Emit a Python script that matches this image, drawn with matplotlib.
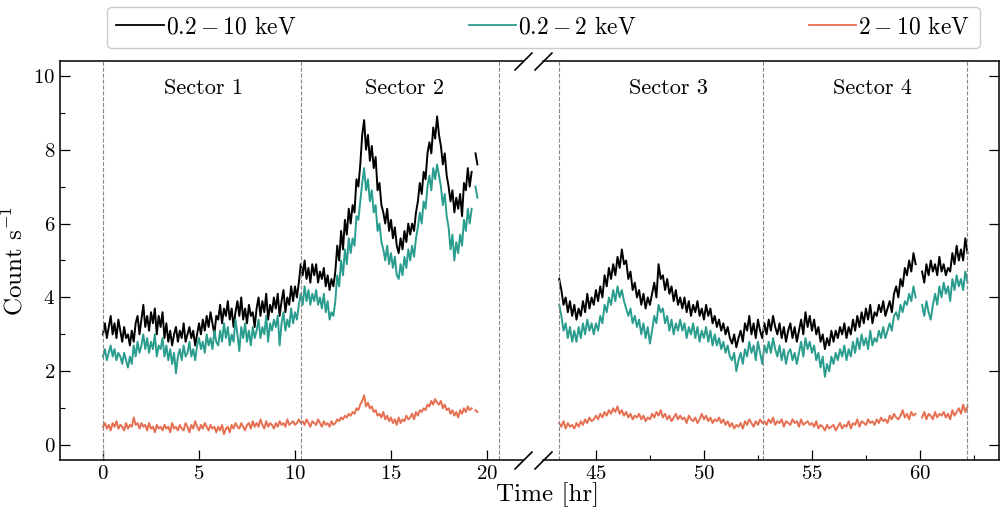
import matplotlib
matplotlib.use("Agg")
import matplotlib.pyplot as plt
import numpy as np
from matplotlib.ticker import MultipleLocator, NullLocator
from matplotlib.lines import Line2D

plt.rcParams['font.family'] = 'cmr10'
plt.rcParams['mathtext.fontset'] = 'cm'
plt.rcParams['axes.unicode_minus'] = False
plt.rcParams['axes.formatter.use_mathtext'] = True

nan = np.nan

# light curves, 0.1 hr bins
t_left = np.round(np.arange(0.0, 19.55, 0.1), 2)
t_right = np.round(np.arange(43.3, 62.25, 0.1), 2)

full_left = [
    3.0, 3.3, 2.9, 3.2, 3.5, 3.0, 3.3, 2.9, 3.4, 3.1,
    2.8, 3.2, 2.9, 3.0, 2.7, 3.1, 2.8, 3.3, 3.5, 3.0,
    3.4, 3.8, 3.2, 3.5, 3.1, 3.6, 3.3, 3.7, 3.0, 3.5,
    3.2, 3.6, 2.9, 3.3, 2.8, 3.1, 2.7, 3.0, 3.2, 2.8,
    3.1, 2.9, 3.3, 2.8, 3.0, 3.2, 2.9, 3.1, 2.7, 3.0,
    3.3, 3.0, 3.4, 3.1, 3.5, 3.2, 3.6, 3.3, 3.0, 3.5,
    3.4, 3.8, 3.3, 3.7, 3.5, 3.9, 3.4, 3.7, 3.2, 3.6,
    3.9, 3.5, 4.0, 3.4, 3.7, 3.3, 3.8, 3.5, 3.6, 3.2,
    3.7, 4.0, 3.5, 3.9, 3.6, 4.1, 3.4, 3.8, 3.6, 4.0,
    3.7, 4.1, 3.5, 3.9, 4.2, 3.6, 4.0, 3.8, 4.3, 3.9,
    4.3, 4.0, 4.4, 4.9, 4.6, 5.0, 4.5, 4.8, 4.4, 4.9,
    4.6, 4.9, 4.4, 4.7, 4.5, 4.8, 4.3, 4.6, 4.2, 4.5,
    4.3, 4.7, 5.4, 5.0, 5.8, 5.3, 6.1, 5.7, 6.4, 6.0,
    6.5, 6.3, 7.2, 7.0, 7.6, 8.4, 8.8, 8.0, 8.4, 7.7,
    8.1, 7.5, 7.8, 6.9, 7.1, 6.5, 6.3, 6.0, 6.4, 5.8,
    6.1, 5.6, 5.9, 5.4, 5.2, 5.6, 5.3, 5.8, 5.5, 6.0,
    5.7, 6.0, 5.8, 6.3, 6.6, 7.1, 6.8, 7.4, 7.2, 7.9,
    8.2, 7.9, 8.6, 8.3, 8.9, 8.4, 8.1, 7.6, 7.9, 7.3,
    7.0, 6.6, 6.9, 6.3, 6.7, 6.4, 6.8, 6.2, 7.1, 6.9,
    7.5, 7.0, 7.4, nan, 7.9, 7.6,
]
soft_left = [
    2.4, 2.6, 2.3, 2.5, 2.7, 2.4, 2.6, 2.3, 2.5, 2.4,
    2.2, 2.5, 2.3, 2.1, 2.4, 2.2, 2.7, 2.4, 2.8, 2.5,
    2.7, 3.0, 2.6, 2.9, 2.5, 2.8, 2.6, 3.0, 2.4, 2.7,
    2.6, 2.9, 2.4, 2.7, 2.3, 2.6, 2.2, 2.5, 1.95, 2.4,
    2.6, 2.3, 2.7, 2.4, 2.5, 2.8, 2.4, 2.6, 2.3, 2.7,
    2.9, 2.6, 2.8, 2.5, 3.0, 2.7, 2.9, 2.6, 3.1, 2.8,
    2.7, 3.1, 2.8, 3.3, 2.9, 3.2, 2.7, 3.0, 2.8, 3.4,
    3.0, 2.55, 3.2, 2.9, 3.3, 2.8, 3.1, 2.7, 3.2, 2.9,
    3.1, 3.4, 2.9, 3.2, 3.0, 3.5, 2.8, 3.3, 3.1, 3.4,
    3.2, 3.5, 2.7, 3.3, 3.6, 3.1, 3.4, 3.2, 3.7, 3.3,
    3.6, 3.4, 3.8, 4.1, 3.8, 4.3, 3.9, 4.2, 3.8, 4.1,
    3.9, 4.2, 3.8, 4.0, 3.7, 4.1, 3.6, 3.9, 3.4, 3.6,
    3.5, 3.9, 4.6, 4.3, 5.0, 4.6, 5.3, 4.9, 5.6, 5.2,
    5.6, 5.4, 6.2, 6.1, 6.6, 7.1, 7.5, 6.9, 7.2, 6.6,
    6.9, 6.3, 6.5, 5.8, 6.0, 5.5, 5.3, 5.0, 5.4, 4.9,
    5.2, 4.8, 5.1, 4.6, 4.5, 4.9, 4.6, 5.1, 4.8, 5.3,
    5.0, 5.4, 5.1, 5.6, 5.9, 6.3, 6.0, 6.6, 6.4, 7.0,
    7.3, 6.9, 7.5, 7.2, 7.6, 7.3, 7.0, 6.5, 6.8, 6.2,
    5.9, 5.3, 5.7, 5.0, 5.5, 5.2, 5.7, 5.4, 6.1, 5.8,
    6.4, 6.0, 6.4, nan, 7.0, 6.7,
]
hard_left = [
    0.5, 0.6, 0.45, 0.55, 0.4, 0.6, 0.5, 0.65, 0.45, 0.55,
    0.5, 0.4, 0.6, 0.45, 0.55, 0.5, 0.75, 0.55, 0.6, 0.45,
    0.6, 0.5, 0.55, 0.4, 0.6, 0.45, 0.5, 0.35, 0.55, 0.45,
    0.5, 0.4, 0.55, 0.45, 0.5, 0.35, 0.6, 0.45, 0.5, 0.4,
    0.55, 0.45, 0.4, 0.6, 0.5, 0.35, 0.55, 0.45, 0.65, 0.5,
    0.4, 0.55, 0.45, 0.6, 0.5, 0.4, 0.55, 0.45, 0.5, 0.35,
    0.5, 0.4, 0.55, 0.3, 0.45, 0.5, 0.35, 0.55, 0.45, 0.6,
    0.5, 0.45, 0.6, 0.5, 0.4, 0.55, 0.6, 0.45, 0.65, 0.5,
    0.6, 0.5, 0.7, 0.55, 0.45, 0.65, 0.5, 0.6, 0.55, 0.45,
    0.6, 0.5, 0.65, 0.55, 0.6, 0.5, 0.7, 0.55, 0.6, 0.65,
    0.55, 0.6, 0.7, 0.6, 0.65, 0.55, 0.7, 0.6, 0.5, 0.65,
    0.6, 0.55, 0.7, 0.6, 0.5, 0.65, 0.55, 0.6, 0.5, 0.65,
    0.55, 0.6, 0.7, 0.65, 0.75, 0.7, 0.8, 0.75, 0.85, 0.8,
    0.9, 0.85, 1.0, 0.95, 1.1, 1.2, 1.35, 1.05, 1.15, 1.0,
    1.05, 0.9, 0.95, 0.8, 0.85, 0.75, 0.9, 0.7, 0.8, 0.65,
    0.75, 0.6, 0.7, 0.55, 0.75, 0.6, 0.7, 0.65, 0.8, 0.7,
    0.75, 0.85, 0.7, 0.9, 0.8, 0.95, 0.9, 1.0, 0.95, 1.1,
    1.05, 1.2, 1.1, 1.25, 1.15, 1.1, 1.2, 1.0, 1.1, 0.95,
    1.0, 0.85, 0.95, 0.8, 0.9, 0.75, 0.95, 0.85, 1.0, 0.9,
    1.05, 0.95, 1.0, nan, 0.95, 0.9,
]

full_right = [
    4.5, 4.2, 3.8, 4.0, 3.6, 3.9, 3.5,
    3.8, 3.4, 3.7, 3.5, 3.9, 3.6, 4.1, 3.7, 4.0, 3.8,
    4.2, 3.9, 4.3, 4.0, 4.6, 4.3, 4.8, 4.5, 4.9, 4.6,
    5.1, 4.8, 5.3, 4.9, 5.0, 4.5, 4.7, 4.2, 4.4, 4.0,
    4.2, 3.8, 4.1, 3.7, 4.0, 3.8, 4.1, 4.4, 4.0, 4.9,
    4.5, 4.6, 4.2, 4.5, 4.1, 4.3, 3.9, 4.2, 3.8, 4.0,
    3.7, 4.0, 3.6, 3.9, 3.5, 3.8, 3.6, 3.9, 3.5, 3.7,
    3.4, 3.8, 3.5, 3.7, 3.3, 3.5, 3.2, 3.4, 3.1, 3.3,
    3.0, 3.2, 2.9, 2.75, 3.0, 2.65, 2.9, 3.1, 2.8, 3.3,
    3.1, 3.5, 3.0, 3.3, 2.9, 3.4, 3.1, 2.9, 3.3, 3.0,
    3.4, 3.1, 3.5, 3.2, 3.0, 3.3, 2.9, 3.2, 2.8, 3.1,
    3.3, 2.9, 3.2, 2.8, 3.1, 3.4, 3.0, 3.6, 3.2, 3.5,
    3.1, 3.4, 3.0, 3.2, 2.8, 3.0, 2.6, 2.9, 2.7, 3.1,
    2.8, 3.1, 2.9, 3.2, 3.0, 3.3, 2.9, 3.2, 3.0, 3.4,
    3.1, 3.5, 3.2, 3.6, 3.3, 3.7, 3.4, 3.8, 3.3, 3.6,
    3.5, 3.8, 3.6, 3.9, 3.5, 3.7, 3.9, 3.6, 4.1, 4.3,
    4.0, 4.5, 4.3, 4.8, 4.6, 5.0, 4.7, 5.2, 4.9, nan,
    nan, 4.7, 4.4, 4.9, 4.6, 5.0, 4.7, 4.9, 4.6, 5.1,
    4.7, 4.9, 4.6, 4.8, 4.7, 5.2, 4.9, 5.4, 5.0, 5.3,
    5.0, 5.6, 5.2,
]
soft_right = [
    3.8, 3.5, 3.1, 3.3, 2.9, 3.2, 2.8,
    3.1, 2.8, 3.2, 2.9, 3.3, 3.0, 3.4, 3.1, 3.3, 3.0,
    3.3, 3.1, 3.5, 3.3, 3.8, 3.6, 4.0, 3.8, 4.2, 3.9,
    4.3, 4.0, 4.2, 3.9, 3.7, 3.5, 3.7, 3.3, 3.5, 3.2,
    3.4, 3.0, 3.3, 2.9, 3.2, 2.75, 3.1, 3.5, 3.3, 3.8,
    3.6, 3.7, 3.3, 3.5, 3.1, 3.4, 3.0, 3.3, 3.1, 3.4,
    3.1, 3.3, 2.9, 3.2, 3.0, 3.3, 2.9, 3.2, 2.8, 3.1,
    2.9, 3.2, 2.8, 3.1, 2.7, 3.0, 2.7, 2.9, 2.6, 2.8,
    2.5, 2.7, 2.4, 2.3, 2.5, 2.0, 2.3, 2.5, 2.2, 2.6,
    2.4, 2.8, 2.5, 2.7, 2.3, 2.8, 2.5, 2.2, 2.7, 2.5,
    2.8, 2.5, 2.9, 2.6, 2.4, 2.7, 2.3, 2.6, 2.2, 2.5,
    2.6, 2.3, 2.5, 2.2, 2.5, 2.8, 2.4, 2.9, 2.6, 2.8,
    2.5, 2.7, 2.3, 2.5, 2.1, 2.4, 1.85, 2.2, 2.0, 2.4,
    2.2, 2.5, 2.3, 2.6, 2.4, 2.7, 2.3, 2.6, 2.4, 2.8,
    2.5, 2.9, 2.6, 3.0, 2.7, 2.9, 2.6, 3.1, 2.7, 2.9,
    2.8, 3.1, 2.9, 3.2, 2.9, 3.1, 3.3, 3.1, 3.5, 3.6,
    3.4, 3.8, 3.6, 3.9, 3.8, 4.1, 3.9, 4.3, 4.0, nan,
    nan, 3.8, 3.5, 3.9, 3.6, 3.4, 3.8, 4.1, 3.8, 4.3,
    4.0, 4.4, 4.1, 4.3, 3.9, 4.5, 4.2, 4.6, 4.3, 4.5,
    4.2, 4.7, 4.4,
]
hard_right = [
    0.6, 0.5, 0.65, 0.45, 0.6, 0.5, 0.55,
    0.45, 0.6, 0.5, 0.65, 0.55, 0.7, 0.6, 0.75, 0.65, 0.7,
    0.8, 0.7, 0.85, 0.75, 0.9, 0.8, 0.95, 0.85, 1.0, 0.9,
    1.05, 0.85, 0.95, 0.8, 0.9, 0.75, 0.85, 0.7, 0.8, 0.75,
    0.85, 0.7, 0.8, 0.65, 0.75, 0.7, 0.85, 0.75, 0.9, 0.8,
    0.95, 0.75, 0.85, 0.7, 0.8, 0.65, 0.75, 0.85, 0.7, 0.8,
    0.7, 0.75, 0.6, 0.8, 0.7, 0.65, 0.75, 0.6, 0.7, 0.85,
    0.7, 0.8, 0.65, 0.75, 0.6, 0.7, 0.65, 0.75, 0.6, 0.7,
    0.55, 0.65, 0.5, 0.6, 0.45, 0.55, 0.5, 0.6, 0.45, 0.65,
    0.55, 0.7, 0.6, 0.5, 0.65, 0.55, 0.7, 0.6, 0.65, 0.55,
    0.7, 0.6, 0.75, 0.55, 0.65, 0.6, 0.7, 0.5, 0.65, 0.6,
    0.55, 0.7, 0.6, 0.65, 0.5, 0.7, 0.55, 0.6, 0.65, 0.55,
    0.6, 0.5, 0.65, 0.45, 0.55, 0.5, 0.4, 0.55, 0.45, 0.5,
    0.55, 0.4, 0.5, 0.6, 0.45, 0.55, 0.5, 0.65, 0.45, 0.6,
    0.55, 0.7, 0.5, 0.65, 0.6, 0.55, 0.7, 0.6, 0.65, 0.55,
    0.7, 0.6, 0.75, 0.65, 0.7, 0.6, 0.8, 0.7, 0.85, 0.75,
    0.7, 0.8, 0.95, 0.75, 0.85, 0.7, 0.9, 0.8, 0.85, nan,
    nan, 0.75, 0.9, 0.7, 0.85, 0.8, 0.7, 0.9, 0.75, 0.85,
    0.8, 0.9, 0.75, 0.85, 0.7, 0.95, 0.8, 0.9, 1.0, 0.85,
    1.1, 0.9, 1.05,
]

sector_edges_left = [0.0, 10.3, 20.6]
sector_edges_right = [43.3, 52.75, 62.2]
sector_names = ['Sector 1', 'Sector 2', 'Sector 3', 'Sector 4']
sector_label_x = [5.25, 15.7, 48.35, 57.8]

labels = [r'$0.2-10$ keV', r'$0.2-2$ keV', r'$2-10$ keV']
colors = ['black', '#2a9d8f', '#e76f51']

fig = plt.figure(figsize=(10, 5.2), dpi=100)
ax1 = fig.add_axes([0.060, 0.1154, 0.463, 0.7673])
ax2 = fig.add_axes([0.543, 0.1154, 0.456, 0.7673])

for ax, t, series in [(ax1, t_left, [full_left, soft_left, hard_left]),
                      (ax2, t_right, [full_right, soft_right, hard_right])]:
    for y, c in zip(series, colors):
        ax.plot(t, y, color=c, lw=1.4)
    ax.set_ylim(-0.4, 10.4)
    ax.tick_params(which='both', direction='in', labelsize=15)
    ax.tick_params(which='major', length=7, width=0.9)
    ax.tick_params(which='minor', length=3.5, width=0.8)
    ax.xaxis.set_major_locator(MultipleLocator(5))
    for s in ax.spines.values():
        s.set_linewidth(1.1)

ax1.xaxis.set_minor_locator(NullLocator())
ax2.xaxis.set_minor_locator(MultipleLocator(2.5))

for x in sector_edges_left:
    ax1.axvline(x, color='#888888', ls='--', lw=0.8)
for x in sector_edges_right:
    ax2.axvline(x, color='#888888', ls='--', lw=0.8)

ax1.set_xlim(-2.24, 21.875)
ax2.set_xlim(42.55, 63.66)

ax1.spines['right'].set_visible(False)
ax2.spines['left'].set_visible(False)
ax1.yaxis.set_major_locator(MultipleLocator(2))
ax1.yaxis.set_minor_locator(MultipleLocator(1))
ax2.yaxis.set_major_locator(MultipleLocator(2))
ax2.yaxis.set_minor_locator(NullLocator())
ax2.yaxis.tick_right()
ax2.tick_params(axis='y', labelright=False)

for name, x in zip(sector_names, sector_label_x):
    ax = ax1 if x < 30 else ax2
    ax.text(x, 9.65, name, ha='center', va='center', fontsize=16)

# break marks
kw = dict(marker=[(-1, -1), (1, 1)], markersize=13, linestyle='none',
          color='k', mec='k', mew=1.2, clip_on=False)
ax1.plot([1, 1], [0, 1], transform=ax1.transAxes, **kw)
ax2.plot([0, 0], [0, 1], transform=ax2.transAxes, **kw)

ax1.set_ylabel(r'Count s$^{-1}$', fontsize=18)
fig.text(0.548, 0.025, 'Time [hr]', ha='center', va='bottom', fontsize=18)

handles = [Line2D([], [], color=c, lw=1.3) for c in colors]
fig.legend(handles, labels, loc='lower left',
           bbox_to_anchor=(0.107, 0.9077, 0.873, 0.0827), mode='expand',
           ncol=3, borderaxespad=0, fontsize=17, handlelength=2.0,
           handletextpad=0.1, frameon=True, fancybox=True,
           edgecolor='#cccccc', framealpha=1)

fig.savefig('out.png', dpi=100)
